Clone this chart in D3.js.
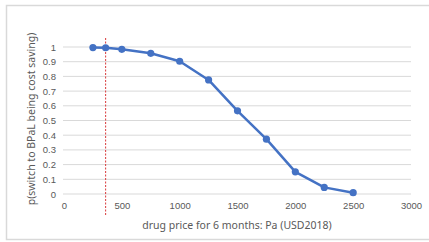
<!DOCTYPE html>
<html>
<head>
<meta charset="utf-8">
<script src="https://cdn.jsdelivr.net/npm/d3@7"></script>
<style>
  body { margin: 0; background: #fff; }
  svg { display: block; font-family: "Noto Sans", "Open Sans", sans-serif; }
  .tick text { fill: #595959; font-size: 9.5px; }
</style>
</head>
<body>
<script>
// drug price (USD2018) vs probability that switching is cost saving
var price = [250, 360, 500, 750, 1000, 1250, 1500, 1750, 2000, 2250, 2500];
var prob = [0.996, 0.995, 0.984, 0.957, 0.903, 0.776, 0.566, 0.373, 0.151, 0.045, 0.009];
var xTicks = [0, 500, 1000, 1500, 2000, 2500, 3000];
var yTicks = [0, 0.1, 0.2, 0.3, 0.4, 0.5, 0.6, 0.7, 0.8, 0.9, 1];
var cutoff = 360;

function chart() {
  var W = 429, H = 242;
  var margin = {top: 47, right: 18, bottom: 48, left: 64},
      width = W - margin.left - margin.right,
      height = H - margin.top - margin.bottom;

  var svg = d3.select("body").append("svg")
      .attr("width", W)
      .attr("height", H);

  // chart frame
  svg.append("rect")
      .attr("x", 6.5).attr("y", 5.5)
      .attr("width", W).attr("height", 234)
      .attr("fill", "none")
      .attr("stroke", "#d9d9d9")
      .attr("stroke-width", 1.5);

  var g = svg.append("g")
      .attr("transform", "translate(" + margin.left + "," + margin.top + ")");

  var x = d3.scaleLinear().domain([0, 3000]).range([0, width]);
  var y = d3.scaleLinear().domain([0, 1]).range([height, 0]);

  // gridlines
  g.selectAll(".grid")
      .data(yTicks)
      .enter().append("line")
      .attr("x1", -1).attr("x2", width)
      .attr("y1", function(d) { return y(d); })
      .attr("y2", function(d) { return y(d); })
      .attr("stroke", "#d9d9d9")
      .attr("stroke-width", 1);

  var xAxis = g.append("g")
      .attr("transform", "translate(0," + height + ")")
      .call(d3.axisBottom(x).tickValues(xTicks).tickSize(0).tickPadding(8).tickFormat(d3.format("d")));
  xAxis.select(".domain").remove();

  var yAxis = g.append("g")
      .call(d3.axisLeft(y).tickValues(yTicks).tickSize(0).tickPadding(8).tickFormat(function(d) { return d3.format("")(+d.toFixed(1)); }));
  yAxis.select(".domain").remove();

  // red dashed cutoff
  g.append("line")
      .attr("x1", x(cutoff)).attr("x2", x(cutoff))
      .attr("y1", -9).attr("y2", height + 21)
      .attr("stroke", "#d9383a")
      .attr("stroke-width", 1)
      .attr("stroke-dasharray", "2,1.5");

  var line = d3.line()
      .x(function(d, i) { return x(price[i]); })
      .y(function(d) { return y(d); });

  g.append("path")
      .datum(prob)
      .attr("d", line)
      .attr("fill", "none")
      .attr("stroke", "#4472c4")
      .attr("stroke-width", 2.5)
      .attr("stroke-linejoin", "round");

  g.selectAll(".dot")
      .data(prob)
      .enter().append("circle")
      .attr("cx", function(d, i) { return x(price[i]); })
      .attr("cy", function(d) { return y(d); })
      .attr("r", 3.6)
      .attr("fill", "#4472c4");

  // axis titles
  svg.append("text")
      .attr("x", 237).attr("y", 229)
      .attr("text-anchor", "middle")
      .attr("fill", "#595959")
      .style("font-size", "10.5px")
      .text("drug price for 6 months: Pa (USD2018)");

  svg.append("text")
      .attr("transform", "translate(35,119) rotate(-90)")
      .attr("text-anchor", "middle")
      .attr("fill", "#595959")
      .style("font-size", "10.5px")
      .text("p(switch to BPaL being cost saving)");
}

window.onload = chart();
</script>
</body>
</html>
